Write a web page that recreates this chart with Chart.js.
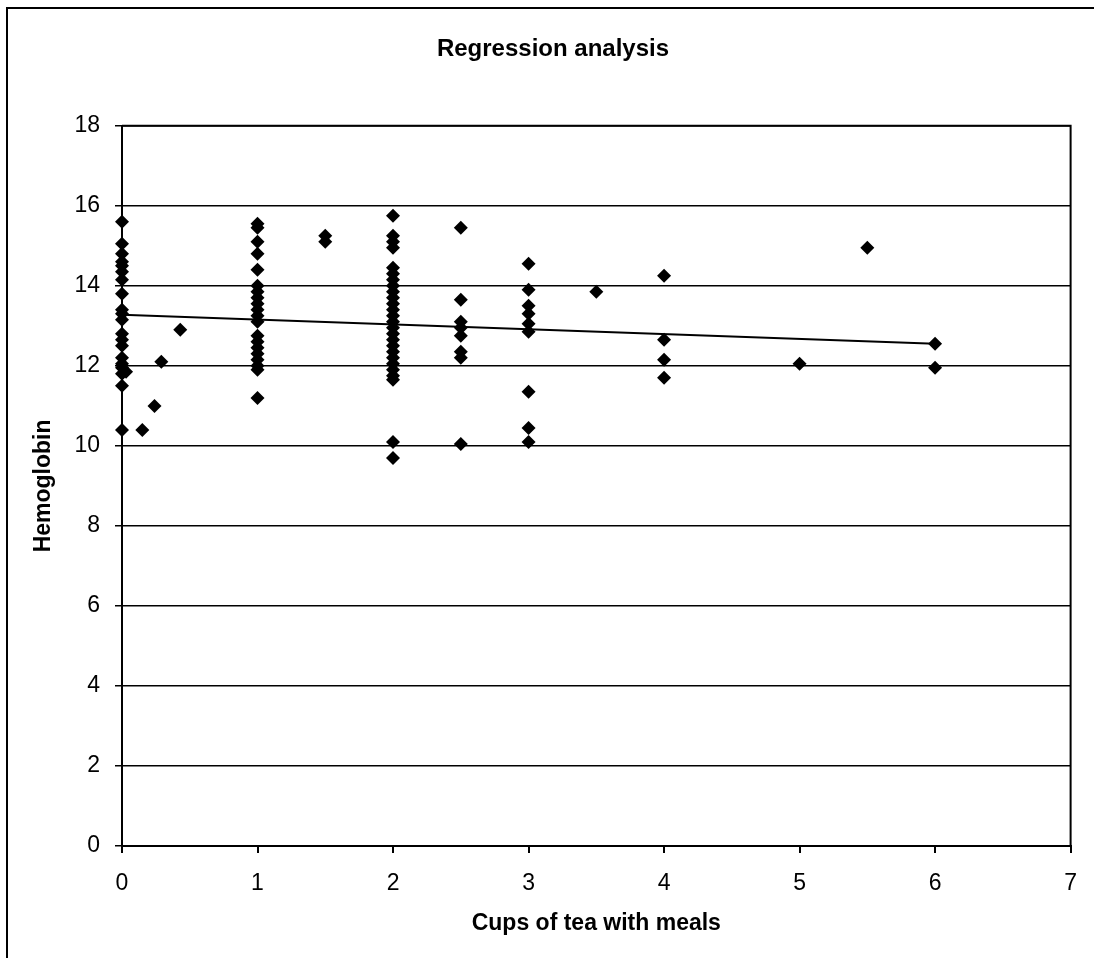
<!DOCTYPE html>
<html>
<head>
<meta charset="utf-8">
<script src="https://cdn.jsdelivr.net/npm/chart.js@4.4.1/dist/chart.umd.min.js"></script>
<style>
  html, body { margin: 0; padding: 0; background: #fff; overflow: hidden; }
  #wrap { position: relative; width: 1094px; height: 958px; }
  #frame { position: absolute; left: 6px; top: 7px; width: 1200px; height: 1100px; border: 2px solid #000; box-sizing: border-box; }
  #c { position: absolute; left: 0; top: 0; }
</style>
</head>
<body>
<div id="wrap">
  <div id="frame"></div>
  <canvas id="c" width="1094" height="958"></canvas>
</div>
<script>
// hemoglobin values, grouped by cups of tea
const hb_cups0 = [15.6, 15.05, 14.8, 14.6, 14.5, 14.35, 14.15, 13.8, 13.4, 13.3, 13.15, 12.8, 12.65, 12.5, 12.2, 12.05, 11.95, 11.8, 11.5, 10.4];
const hb_cups1 = [15.55, 15.45, 15.1, 14.8, 14.4, 14.0, 13.85, 13.7, 13.55, 13.4, 13.25, 13.1, 12.75, 12.6, 12.45, 12.3, 12.15, 12.0, 11.9, 11.2];
const hb_cups1_5 = [15.25, 15.1];
const hb_cups2 = [15.75, 15.25, 15.1, 14.95, 14.45, 14.3, 14.15, 14.0, 13.85, 13.7, 13.55, 13.4, 13.25, 13.1, 12.95, 12.8, 12.65, 12.5, 12.35, 12.2, 12.05, 11.9, 11.75, 11.65, 10.1, 9.7];
const hb_cups2_5 = [15.45, 13.65, 13.1, 12.95, 12.75, 12.35, 12.2, 10.05];
const hb_cups3 = [14.55, 13.9, 13.5, 13.3, 13.05, 12.85, 11.35, 10.45, 10.1];
const hb_cups3_5 = [13.85];
const hb_cups4 = [14.25, 12.65, 12.15, 11.7];
const hb_cups5 = [12.05];
const hb_cups5_5 = [14.95];
const hb_cups6 = [12.55, 11.95];
// odd points between 0 and 0.5 cups
const low_x = [0.03, 0.15, 0.24, 0.29, 0.43];
const low_y = [11.85, 10.4, 11.0, 12.1, 12.9];
// fitted regression line
const trend_x = [0, 6];
const trend_y = [13.28, 12.55];

const xTicks = [0, 1, 2, 3, 4, 5, 6, 7];
const yTicks = [0, 2, 4, 6, 8, 10, 12, 14, 16, 18];

function col(x, arr) {
    return arr.map(v => ({ x: x, y: v }));
}
let points = [].concat(
    col(0, hb_cups0), col(1, hb_cups1), col(1.5, hb_cups1_5), col(2, hb_cups2),
    col(2.5, hb_cups2_5), col(3, hb_cups3), col(3.5, hb_cups3_5), col(4, hb_cups4),
    col(5, hb_cups5), col(5.5, hb_cups5_5), col(6, hb_cups6),
    low_x.map((x, i) => ({ x: x, y: low_y[i] }))
);
let trend = trend_x.map((x, i) => ({ x: x, y: trend_y[i] }));

// top and right edges of the plot box
const plotBox = {
    id: 'plotBox',
    afterDraw(chart) {
        const a = chart.chartArea, ctx = chart.ctx;
        ctx.save();
        ctx.strokeStyle = '#000';
        ctx.lineWidth = 2;
        ctx.beginPath();
        ctx.moveTo(a.left, a.top);
        ctx.lineTo(a.right, a.top);
        ctx.lineTo(a.right, a.bottom);
        ctx.stroke();
        ctx.restore();
    }
};

const fam = '"Liberation Sans", Arial, sans-serif';
new Chart(document.getElementById('c'), {
    type: 'scatter',
    data: {
        datasets: [
            {
                label: 'trend',
                data: trend,
                showLine: true,
                borderColor: '#000',
                borderWidth: 2,
                pointRadius: 0,
                order: 2
            },
            {
                label: 'Hemoglobin',
                data: points,
                pointStyle: 'rectRot',
                pointRadius: 7,
                backgroundColor: '#000',
                borderColor: '#000',
                borderWidth: 0,
                clip: false,
                order: 1
            }
        ]
    },
    options: {
        responsive: false,
        animation: false,
        layout: { padding: { top: 0, left: 32, right: 20, bottom: 0 } },
        scales: {
            x: {
                type: 'linear',
                min: 0, max: 7,
                afterFit: s => { s.height = 112; },
                afterBuildTicks: s => { s.ticks = xTicks.map(v => ({ value: v })); },
                grid: { drawOnChartArea: false, color: '#000', lineWidth: 2, tickLength: 7 },
                border: { color: '#000', width: 2 },
                ticks: { color: '#000', padding: 17, font: { family: fam, size: 23 } },
                title: {
                    display: true,
                    text: 'Cups of tea with meals',
                    color: '#000',
                    font: { family: fam, size: 23, weight: 'bold' },
                    padding: { top: 0, bottom: 21 }
                }
            },
            y: {
                type: 'linear',
                min: 0, max: 18,
                afterFit: s => { s.width = 90; },
                afterBuildTicks: s => { s.ticks = yTicks.map(v => ({ value: v })); },
                grid: { color: '#000', lineWidth: 1.5, tickLength: 7 },
                border: { color: '#000', width: 2 },
                ticks: { color: '#000', padding: 15, font: { family: fam, size: 23 } },
                title: {
                    display: true,
                    text: 'Hemoglobin',
                    color: '#000',
                    font: { family: fam, size: 23, weight: 'bold' },
                    padding: { top: -2, bottom: 0 }
                }
            }
        },
        plugins: {
            legend: { display: false },
            tooltip: { enabled: false },
            title: {
                display: true,
                text: 'Regression analysis',
                color: '#000',
                font: { family: fam, size: 24, weight: 'bold' },
                padding: { top: 35, bottom: 62 }
            }
        }
    },
    plugins: [plotBox]
});
</script>
</body>
</html>
